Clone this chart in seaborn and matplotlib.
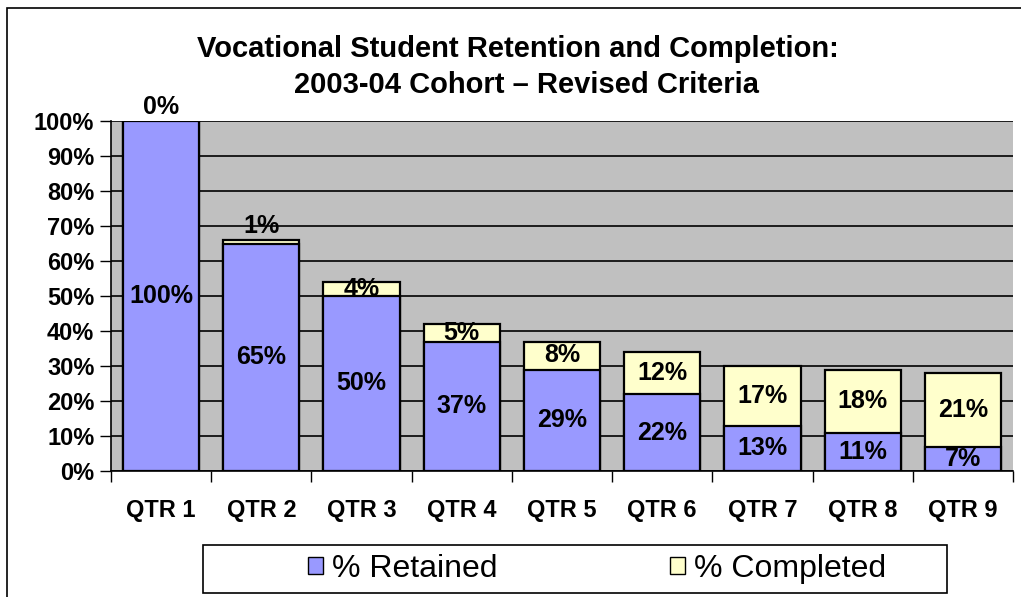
import matplotlib
matplotlib.use("Agg")
from matplotlib import pyplot as plt
from matplotlib.patches import Patch, Rectangle
import pandas as pd
import seaborn as sb

quarters = ["QTR 1", "QTR 2", "QTR 3", "QTR 4", "QTR 5", "QTR 6", "QTR 7", "QTR 8", "QTR 9"]
retained = [100, 65, 50, 37, 29, 22, 13, 11, 7]
completed = [0, 1, 4, 5, 8, 12, 17, 18, 21]
y_ticks = [0, 10, 20, 30, 40, 50, 60, 70, 80, 90, 100]

purple = "#9999FF"
yellow = "#FFFFCC"

sb.set_style("white")
plt.rcParams["font.family"] = ["Liberation Sans", "DejaVu Sans"]
plt.rcParams["text.color"] = "black"
plt.rcParams["xtick.color"] = "black"
plt.rcParams["ytick.color"] = "black"

df = pd.DataFrame({"quarter": quarters, "retained": retained, "completed": completed})
df["total"] = df.retained + df.completed

fig = plt.figure(figsize=(10.21, 5.97), dpi=100)
ax = fig.add_axes([111 / 1021, 1 - 471 / 597, 902 / 1021, 350 / 597])
ax.set_facecolor("#C0C0C0")

sb.barplot(data=df, x="quarter", y="total", color=yellow, width=0.76,
           edgecolor="black", linewidth=1.6, saturation=1, ax=ax, zorder=3)
sb.barplot(data=df, x="quarter", y="retained", color=purple, width=0.76,
           edgecolor="black", linewidth=1.6, saturation=1, ax=ax, zorder=4)

ax.set_ylim(0, 100)
ax.set_xlim(-0.5, len(quarters) - 0.5)
ax.set_yticks(y_ticks)
ax.set_yticklabels([f"{t}%" for t in y_ticks], fontsize=17, fontweight="bold")
ax.set_xticks(range(len(quarters)))
ax.set_xticklabels(quarters, fontsize=17, fontweight="bold")
ax.tick_params(axis="x", length=0, pad=20)
ax.tick_params(axis="y", length=8, width=1, color="black", left=True, pad=4)
ax.set_xticks([i + 0.5 for i in range(-1, len(quarters))], minor=True)
ax.tick_params(axis="x", which="minor", length=8, width=1, color="black", bottom=True)
ax.set_xlabel("")
ax.set_ylabel("")
ax.yaxis.grid(True, color="black", linewidth=1.2, zorder=1)
ax.set_axisbelow(True)
for side in ["top", "right"]:
    ax.spines[side].set_visible(False)
for side in ["left", "bottom"]:
    ax.spines[side].set_color("black")
    ax.spines[side].set_linewidth(1.2)

# value labels
for i, row in df.iterrows():
    ax.text(i, row.retained / 2, f"{row.retained}%", ha="center", va="center",
            fontsize=18, fontweight="bold", zorder=6)
    if row.completed < 2:
        ypos = row.total + 4
    else:
        ypos = row.retained + row.completed / 2
    ax.text(i, ypos, f"{row.completed}%", ha="center", va="center",
            fontsize=18, fontweight="bold", zorder=6, clip_on=False)

fig.text(518 / 1021, 1 - 57 / 597, "Vocational Student Retention and Completion:",
         ha="center", va="baseline", fontsize=21, fontweight="bold")
fig.text(526 / 1021, 1 - 93 / 597, "2003-04 Cohort \u2013 Revised Criteria",
         ha="center", va="baseline", fontsize=21, fontweight="bold")

# chart area border
fig.patches.append(Rectangle((7 / 1021, -0.1), 1.2, 1 - 8 / 597 + 0.1, transform=fig.transFigure,
                             fill=False, edgecolor="black", linewidth=1.2))
# legend box
fig.patches.append(Rectangle((203 / 1021, 1 - 593 / 597), 744 / 1021, 48 / 597,
                             transform=fig.transFigure, facecolor="white",
                             edgecolor="black", linewidth=1.2, zorder=5))

legend_entries = [("% Retained", purple, 308), ("% Completed", yellow, 670)]
for label, colour, xpix in legend_entries:
    leg = fig.legend(handles=[Patch(facecolor=colour, edgecolor="black", label=label)],
                     loc="center left", bbox_to_anchor=(xpix / 1021, 1 - 569 / 597),
                     fontsize=23, frameon=False, handlelength=0.47, handleheight=0.47,
                     handletextpad=0.28, borderpad=0, borderaxespad=0)
    leg.set_zorder(6)

fig.savefig("out.png", dpi=100)
